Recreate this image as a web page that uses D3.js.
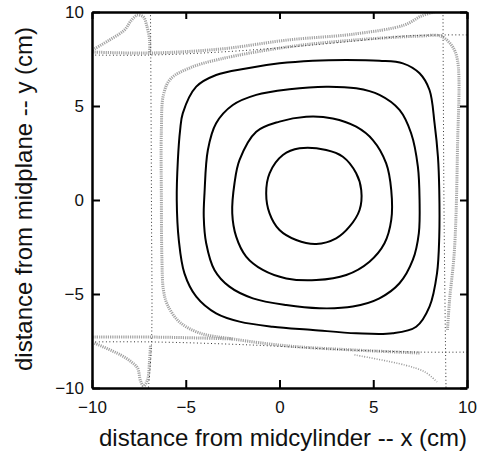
<!DOCTYPE html>
<html>
<head>
<meta charset="utf-8">
<script src="https://cdn.jsdelivr.net/npm/d3@7"></script>
<style>
  body { margin: 0; background: #fff; }
  svg { display: block; }
  text { font-family: "Liberation Sans", Arial, Helvetica, sans-serif; }
</style>
</head>
<body>
<div id="chart"></div>
<script>
// axis ticks
const xTicks = [-10, -5, 0, 5, 10]
const yTicks = [-10, -5, 0, 5, 10]

// black closed contours (x, y in cm)
const contour1 = [[0.18,2.39],[1.07,2.75],[2.49,2.66],[3.38,2.30],[4.09,1.42],[4.36,0.53],[4.27,-0.53],[3.73,-1.42],[3.02,-2.04],[1.96,-2.34],[0.89,-2.13],[0.0,-1.60],[-0.53,-0.71],[-0.71,0.35],[-0.53,1.42]]
const contour2 = [[-2.13,2.13],[-1.24,3.63],[0.0,4.17],[1.42,4.43],[2.84,4.34],[4.09,3.90],[4.98,3.19],[5.69,1.95],[5.96,0.53],[5.96,-1.06],[5.60,-2.30],[4.80,-3.28],[3.56,-3.99],[1.96,-4.26],[0.36,-4.17],[-0.89,-3.72],[-1.78,-3.01],[-2.31,-1.95],[-2.52,-0.71],[-2.40,0.89]]
const contour3 = [[-3.82,2.66],[-3.38,4.08],[-2.49,5.05],[-1.24,5.59],[0.53,5.89],[2.49,6.03],[4.09,5.94],[5.33,5.59],[6.40,4.79],[7.02,3.55],[7.38,1.77],[7.47,0.0],[7.43,-1.77],[7.11,-3.19],[6.40,-4.43],[5.33,-5.23],[3.91,-5.67],[2.13,-5.76],[0.36,-5.59],[-1.42,-5.23],[-2.67,-4.61],[-3.47,-3.72],[-3.91,-2.30],[-4.04,-0.89],[-4.0,0.35]]
const contour4 = [[-5.30,3.72],[-5.16,4.61],[-4.44,6.03],[-3.38,6.65],[-1.78,7.00],[0.0,7.27],[1.78,7.41],[3.56,7.45],[5.33,7.41],[6.58,7.27],[7.47,6.74],[8.0,5.85],[8.27,4.08],[8.45,2.30],[8.52,0.53],[8.52,-1.95],[8.40,-3.90],[8.0,-5.67],[7.29,-6.74],[6.04,-7.09],[4.09,-7.09],[1.78,-6.91],[-0.36,-6.74],[-2.13,-6.47],[-3.38,-6.03],[-4.44,-5.14],[-5.07,-3.90],[-5.37,-2.13],[-5.48,0.0],[-5.42,2.13]]

// grey stippled (separatrix) curves
const greyTopLeft = [[-9.97,7.98],[-9.07,8.51],[-8.27,9.04],[-7.89,9.57],[-7.57,9.84],[-7.25,9.73],[-7.09,9.31],[-6.93,8.51],[-6.93,7.82]]
const greyTopBand = [[-9.97,7.87],[-6.93,7.82],[-3.15,8.03],[0.43,8.51],[4.0,8.83],[6.67,9.31],[7.57,9.79],[8.25,10.0]]
const greyInner = [[8.96,-6.91],[9.07,-5.32],[9.33,-2.66],[9.49,2.66],[9.49,7.45],[9.17,8.24],[8.59,8.72],[7.52,8.72],[4.0,8.51],[0.43,8.14],[-3.15,7.5],[-4.8,7.02],[-5.81,6.44],[-6.19,5.59],[-6.3,3.72],[-6.3,0],[-6.27,-3.19],[-6.19,-4.79],[-5.97,-5.59],[-5.33,-6.49],[-4.27,-7.07],[-2.51,-7.39],[0.53,-7.77],[4.0,-7.98],[7.47,-8.14]]
const greyBottomBand = [[-9.97,-7.29],[-6.88,-7.29],[-4.27,-7.34],[-2.51,-7.39]]
const greyBottomLeft = [[-9.87,-7.61],[-8.48,-8.24],[-7.89,-8.62],[-7.57,-8.94],[-7.41,-9.63],[-7.25,-9.89],[-7.04,-9.57],[-6.93,-8.51],[-6.88,-7.71]]
const greyBottomRight = [[4.0,-8.24],[6.69,-8.78],[7.76,-9.15],[8.4,-9.68]]

// thin black dotted lines
const dotLeft = [[-6.88,10],[-6.83,0],[-6.83,-7.71],[-6.99,-10]]
const dotRight = [[8.72,10],[8.77,0],[8.88,-10]]
const dotTop = [[-10,7.71],[-6.91,7.71],[-3.17,7.87],[0.56,8.14],[4.03,8.46],[6.69,8.72],[8.83,8.78],[10,8.78]]
const dotBottom = [[-10,-7.55],[-6.8,-7.55],[-1.57,-7.71],[3.76,-7.98],[7.49,-8.09],[10,-8.09]]

const width = 478, height = 455
const svg = d3.select("#chart").append("svg")
    .attr("width", width)
    .attr("height", height)

const x = d3.scaleLinear().domain([-10, 10]).range([92, 467])
const y = d3.scaleLinear().domain([-10, 10]).range([388, 12])

svg.append("clipPath").attr("id", "plotclip")
    .append("rect")
    .attr("x", x(-10)).attr("y", y(10))
    .attr("width", x(10) - x(-10)).attr("height", y(-10) - y(10))

const plot = svg.append("g").attr("clip-path", "url(#plotclip)")

const openLine = d3.line().x(d => x(d[0])).y(d => y(d[1])).curve(d3.curveCatmullRom)
const closedLine = d3.line().x(d => x(d[0])).y(d => y(d[1])).curve(d3.curveCatmullRomClosed)

//灰色的点状曲线
const greyCurves = [greyTopLeft, greyTopBand, greyInner, greyBottomBand, greyBottomLeft]
plot.append("g")
    .selectAll("path")
    .data(greyCurves)
    .enter()
    .append("path")
    .attr("d", openLine)
    .attr("fill", "none")
    .attr("stroke", "#a4a4a4")
    .attr("stroke-width", 3)
    .attr("stroke-dasharray", "1.2 1")

plot.append("path")
    .datum(greyBottomRight)
    .attr("d", openLine)
    .attr("fill", "none")
    .attr("stroke", "#999")
    .attr("stroke-width", 1.6)
    .attr("stroke-dasharray", "1 1.5")

//细的黑色虚线
plot.append("g")
    .selectAll("path")
    .data([dotLeft, dotRight, dotTop, dotBottom])
    .enter()
    .append("path")
    .attr("d", openLine)
    .attr("fill", "none")
    .attr("stroke", "#333")
    .attr("stroke-width", 1)
    .attr("stroke-dasharray", "1 2.5")

//黑色闭合等值线
plot.append("g")
    .selectAll("path")
    .data([contour1, contour2, contour3, contour4])
    .enter()
    .append("path")
    .attr("d", closedLine)
    .attr("fill", "none")
    .attr("stroke", "#000")
    .attr("stroke-width", 2)

// axes, ticks pointing inward
const tickFont = 17
const bottomAxis = svg.append("g")
    .attr("transform", `translate(0,${y(-10)})`)
    .call(d3.axisBottom(x).tickValues(xTicks).tickSizeInner(-8).tickSizeOuter(0).tickPadding(13).tickFormat(d3.format("d")))
const leftAxis = svg.append("g")
    .attr("transform", `translate(${x(-10)},0)`)
    .call(d3.axisLeft(y).tickValues(yTicks).tickSizeInner(-8).tickSizeOuter(0).tickPadding(8).tickFormat(d3.format("d")))
const topAxis = svg.append("g")
    .attr("transform", `translate(0,${y(10)})`)
    .call(d3.axisTop(x).tickValues(xTicks).tickSizeInner(-7).tickSizeOuter(0).tickFormat(""))
const rightAxis = svg.append("g")
    .attr("transform", `translate(${x(10)},0)`)
    .call(d3.axisRight(y).tickValues(yTicks).tickSizeInner(-7).tickSizeOuter(0).tickFormat(""))

;[bottomAxis, leftAxis, topAxis, rightAxis].forEach(a => {
    a.select(".domain").attr("stroke", "#000").attr("stroke-width", 2.5)
    a.selectAll(".tick line").attr("stroke", "#000").attr("stroke-width", 2)
    a.selectAll(".tick text")
        .attr("font-family", "Liberation Sans, Arial, sans-serif")
        .attr("font-size", tickFont)
        .attr("fill", "#111")
})

// axis titles
svg.append("text")
    .attr("x", 283)
    .attr("y", 446)
    .attr("text-anchor", "middle")
    .attr("font-size", 24)
    .attr("fill", "#111")
    .text("distance from midcylinder -- x (cm)")

svg.append("text")
    .attr("transform", `translate(32,199) rotate(-90)`)
    .attr("text-anchor", "middle")
    .attr("font-size", 24)
    .attr("fill", "#111")
    .text("distance from midplane -- y (cm)")
</script>
</body>
</html>
